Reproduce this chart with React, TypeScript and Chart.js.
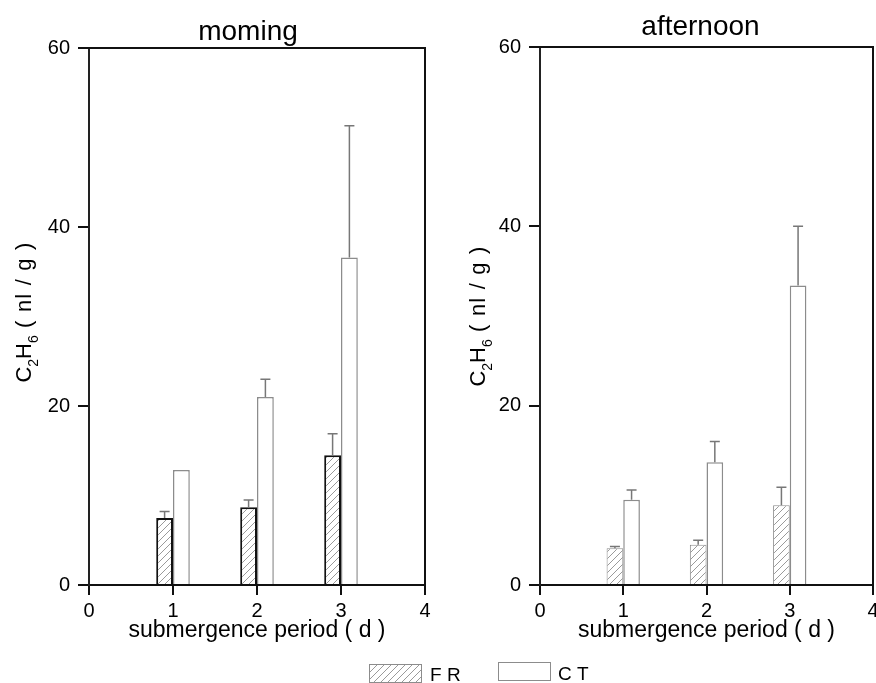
import { useEffect, useRef } from 'react';
import { Chart, registerables } from 'chart.js';
Chart.register(...registerables);

const FONT = "'Liberation Sans', Arial, sans-serif";

const days = [1, 2, 3];
const xTickValues = [0, 1, 2, 3, 4];
const yTickValues = [0, 20, 40, 60];
const seriesLabels = ['F R', 'C T'];
const panelTitles = ['moming', 'afternoon'];
const xAxisTitle = 'submergence period ( d )';

const morningFR = [7.5, 8.7, 14.5];
const morningFRErr = [0.7, 0.8, 2.4];
const morningCT = [12.85, 21.0, 36.6];
const morningCTErr = [0, 2.0, 14.7];

const afternoonFR = [4.1, 4.5, 8.9];
const afternoonFRErr = [0.2, 0.5, 2.0];
const afternoonCT = [9.5, 13.7, 33.4];
const afternoonCTErr = [1.1, 2.3, 6.6];

function makeHatch(): CanvasPattern | string {
  const c = document.createElement('canvas');
  const s = 7;
  c.width = s;
  c.height = s;
  const g = c.getContext('2d');
  if (!g) return '#ddd';
  g.fillStyle = '#fff';
  g.fillRect(0, 0, s, s);
  g.strokeStyle = '#9a9a9a';
  g.lineWidth = 1;
  g.beginPath();
  g.moveTo(0, s);
  g.lineTo(s, 0);
  g.moveTo(-1, 1);
  g.lineTo(1, -1);
  g.moveTo(s - 1, s + 1);
  g.lineTo(s + 1, s - 1);
  g.stroke();
  const p = g.createPattern(c, 'repeat');
  return p || '#ddd';
}

function drawYLabel(ctx: CanvasRenderingContext2D, bx: number, cy: number) {
  const big = 22;
  const small = 14;
  const parts = [
    { t: 'C', s: big, dy: 0, ls: 0 },
    { t: '2', s: small, dy: 7, ls: 0 },
    { t: 'H', s: big, dy: 0, ls: 0 },
    { t: '6', s: small, dy: 7, ls: 0 },
    { t: ' ( nl / g )', s: big, dy: 0, ls: 1.2 },
  ];
  ctx.save();
  ctx.translate(bx, cy);
  ctx.rotate(-Math.PI / 2);
  ctx.fillStyle = '#000';
  ctx.textBaseline = 'alphabetic';
  ctx.textAlign = 'left';
  let total = 0;
  const widths: number[] = [];
  for (const p of parts) {
    ctx.font = `${p.s}px ${FONT}`;
    const w = ctx.measureText(p.t).width + p.ls * p.t.length;
    widths.push(w);
    total += w;
  }
  let cur = -total / 2;
  parts.forEach((p, i) => {
    ctx.font = `${p.s}px ${FONT}`;
    if (p.ls) {
      let x = cur;
      for (const ch of p.t) {
        ctx.fillText(ch, x, p.dy);
        x += ctx.measureText(ch).width + p.ls;
      }
    } else {
      ctx.fillText(p.t, cur, p.dy);
    }
    cur += widths[i];
  });
  ctx.restore();
}

interface Panel {
  title: string;
  titleDX: number;
  titleY: number;
  fr: number[];
  frErr: number[];
  ct: number[];
  ctErr: number[];
  frBorder: string;
  frBorderWidth: number;
  top: number;
  padRight: number;
  yWidth: number;
  labelX: number;
  labelY: number;
}

function panelPlugin(p: Panel) {
  return {
    id: 'panelDecor',
    afterDatasetsDraw(chart: any) {
      const ctx: CanvasRenderingContext2D = chart.ctx;
      const yScale = chart.scales.y;
      const errs = [p.frErr, p.ctErr];
      const vals = [p.fr, p.ct];
      ctx.save();
      ctx.strokeStyle = '#777';
      ctx.lineWidth = 1.5;
      for (let di = 0; di < 2; di++) {
        const meta = chart.getDatasetMeta(di);
        meta.data.forEach((el: any, j: number) => {
          const e = errs[di][j];
          if (!e) return;
          const yTop = yScale.getPixelForValue(vals[di][j] + e);
          const x = el.x;
          ctx.beginPath();
          ctx.moveTo(x, el.y);
          ctx.lineTo(x, yTop);
          ctx.moveTo(x - 5, yTop);
          ctx.lineTo(x + 5, yTop);
          ctx.stroke();
        });
      }
      ctx.restore();
    },
    afterDraw(chart: any) {
      const ctx: CanvasRenderingContext2D = chart.ctx;
      const a = chart.chartArea;
      ctx.save();
      ctx.strokeStyle = '#111';
      ctx.lineWidth = 2;
      ctx.beginPath();
      ctx.moveTo(a.left - 1, a.top);
      ctx.lineTo(a.right, a.top);
      ctx.lineTo(a.right, a.bottom);
      ctx.stroke();
      ctx.fillStyle = '#000';
      ctx.font = `28px ${FONT}`;
      ctx.textAlign = 'center';
      ctx.textBaseline = 'alphabetic';
      ctx.fillText(p.title, (a.left + a.right) / 2 + p.titleDX, p.titleY);
      ctx.restore();
      drawYLabel(ctx, p.labelX, p.labelY);
    },
  };
}

function makeConfig(p: Panel, hatch: CanvasPattern | string): any {
  const tickFont = { size: 20, family: FONT };
  return {
    type: 'bar',
    data: {
      datasets: [
        {
          label: seriesLabels[0],
          data: days.map((d, i) => ({ x: d, y: p.fr[i] })),
          backgroundColor: hatch,
          borderColor: p.frBorder,
          borderWidth: p.frBorderWidth,
          borderSkipped: 'start',
          categoryPercentage: 0.4,
          barPercentage: 1,
        },
        {
          label: seriesLabels[1],
          data: days.map((d, i) => ({ x: d, y: p.ct[i] })),
          backgroundColor: '#ffffff',
          borderColor: '#8c8c8c',
          borderWidth: 1.5,
          borderSkipped: 'start',
          categoryPercentage: 0.4,
          barPercentage: 1,
        },
      ],
    },
    options: {
      animation: false,
      responsive: false,
      devicePixelRatio: 1,
      events: [],
      layout: { padding: { top: p.top, right: p.padRight, left: 0, bottom: 0 } },
      plugins: {
        legend: { display: false },
        title: { display: false },
        tooltip: { enabled: false },
      },
      scales: {
        x: {
          type: 'linear',
          min: 0,
          max: 4,
          offset: false,
          afterBuildTicks: (s: any) => {
            s.ticks = xTickValues.map((v) => ({ value: v }));
          },
          ticks: { font: tickFont, color: '#000', padding: 4, maxRotation: 0, autoSkip: false },
          grid: { offset: false, drawOnChartArea: false, color: '#111', lineWidth: 2, tickLength: 10 },
          border: { color: '#111', width: 2 },
          title: {
            display: true,
            text: xAxisTitle,
            font: { size: 23, family: FONT },
            color: '#000',
            padding: { top: 0, bottom: 6 },
          },
          afterFit: (s: any) => {
            s.height = 65;
            s.paddingLeft = 0;
            s.paddingRight = 0;
          },
        },
        y: {
          type: 'linear',
          min: 0,
          max: 60,
          afterBuildTicks: (s: any) => {
            s.ticks = yTickValues.map((v) => ({ value: v }));
          },
          ticks: { font: tickFont, color: '#000', padding: 8 },
          grid: { drawOnChartArea: false, color: '#111', lineWidth: 2, tickLength: 11 },
          border: { color: '#222', width: 2 },
          afterFit: (s: any) => {
            s.width = p.yWidth;
            s.paddingTop = 0;
            s.paddingBottom = 0;
          },
        },
      },
    },
    plugins: [panelPlugin(p)],
  };
}

function drawLegend(canvas: HTMLCanvasElement, hatch: CanvasPattern | string) {
  const ctx = canvas.getContext('2d');
  if (!ctx) return;
  ctx.clearRect(0, 0, canvas.width, canvas.height);
  ctx.fillStyle = hatch as any;
  ctx.fillRect(369, 14, 52, 18);
  ctx.strokeStyle = '#8c8c8c';
  ctx.lineWidth = 1;
  ctx.strokeRect(369.5, 14.5, 52, 18);
  ctx.fillStyle = '#fff';
  ctx.fillRect(498, 12, 52, 18);
  ctx.strokeRect(498.5, 12.5, 52, 18);
  ctx.fillStyle = '#000';
  ctx.font = `19px ${FONT}`;
  ctx.textBaseline = 'alphabetic';
  ctx.textAlign = 'left';
  ctx.fillText(seriesLabels[0], 430, 31);
  ctx.fillText(seriesLabels[1], 558, 30);
}

export default function App() {
  const leftRef = useRef<HTMLCanvasElement>(null);
  const rightRef = useRef<HTMLCanvasElement>(null);
  const legendRef = useRef<HTMLCanvasElement>(null);

  useEffect(() => {
    const hatch = makeHatch();
    const leftPanel: Panel = {
      title: panelTitles[0],
      titleDX: -9,
      titleY: 40,
      fr: morningFR,
      frErr: morningFRErr,
      ct: morningCT,
      ctErr: morningCTErr,
      frBorder: '#111',
      frBorderWidth: 2,
      top: 48,
      padRight: 20,
      yWidth: 89,
      labelX: 31,
      labelY: 312,
    };
    const rightPanel: Panel = {
      title: panelTitles[1],
      titleDX: -6,
      titleY: 35,
      fr: afternoonFR,
      frErr: afternoonFRErr,
      ct: afternoonCT,
      ctErr: afternoonCTErr,
      frBorder: '#8c8c8c',
      frBorderWidth: 1,
      top: 47,
      padRight: 8,
      yWidth: 95,
      labelX: 40,
      labelY: 316,
    };
    const c1 = new Chart(leftRef.current as HTMLCanvasElement, makeConfig(leftPanel, hatch));
    const c2 = new Chart(rightRef.current as HTMLCanvasElement, makeConfig(rightPanel, hatch));
    if (legendRef.current) drawLegend(legendRef.current, hatch);
    return () => {
      c1.destroy();
      c2.destroy();
    };
  }, []);

  return (
    <div
      style={{
        position: 'fixed',
        left: 0,
        top: 0,
        width: 876,
        height: 683,
        overflow: 'hidden',
        background: '#fff',
      }}
    >
      <canvas
        ref={leftRef}
        width={445}
        height={650}
        style={{ position: 'absolute', left: 0, top: 0, width: 445, height: 650 }}
      />
      <canvas
        ref={rightRef}
        width={436}
        height={650}
        style={{ position: 'absolute', left: 445, top: 0, width: 436, height: 650 }}
      />
      <canvas
        ref={legendRef}
        width={876}
        height={33}
        style={{ position: 'absolute', left: 0, top: 650, width: 876, height: 33 }}
      />
    </div>
  );
}
